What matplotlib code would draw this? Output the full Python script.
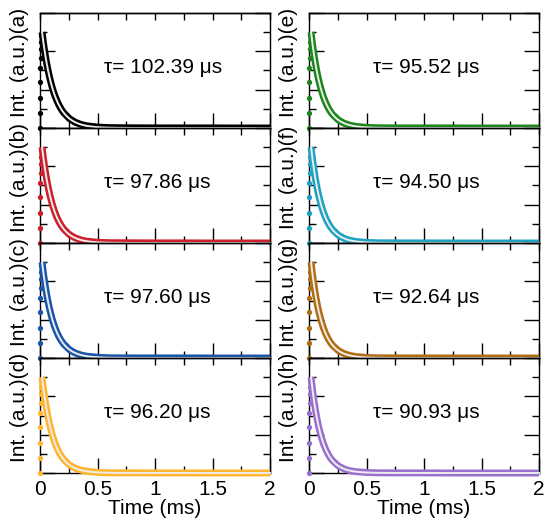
import numpy as np
import matplotlib
matplotlib.use("Agg")
import matplotlib.pyplot as plt
from matplotlib.ticker import MultipleLocator

plt.rcParams['font.family'] = ['Liberation Sans', 'DejaVu Sans']

# Panel letters, fitted lifetimes (µs) and colours
panels = ['a', 'b', 'c', 'd', 'e', 'f', 'g', 'h']
taus_us = [102.39, 97.86, 97.60, 96.20, 95.52, 94.50, 92.64, 90.93]
colors = ['#000000', '#cc1f2b', '#1a56a8', '#ffb52e',
          '#1c861c', '#1ea2c2', '#b26d12', '#9a70cf']

# Rising edge, sampled right at the excitation pulse (ms, normalised intensity)
rise_t = [0.000, 0.001, 0.002, 0.003, 0.004, 0.005, 0.006, 0.007, 0.008]
rise_i = [0.00, 0.16, 0.31, 0.48, 0.63, 0.73, 0.82, 0.90, 0.97]

# Decay part of the measured transients (ms)
decay_t = [0.018, 0.026, 0.036, 0.046, 0.056, 0.066, 0.076, 0.086, 0.106,
           0.126, 0.146, 0.166, 0.186, 0.206, 0.256, 0.306, 0.356, 0.406,
           0.506, 0.606, 0.806, 1.006, 1.256, 1.506, 1.756, 2.000]

decay_i = {
    'a': [1.000, 0.925, 0.839, 0.761, 0.690, 0.626, 0.567, 0.515, 0.423,
          0.348, 0.287, 0.236, 0.194, 0.159, 0.098, 0.060, 0.037, 0.023,
          0.009, 0.004, 0.002, 0.001, 0.001, 0.001, 0.000, 0.000],
    'b': [1.000, 0.921, 0.832, 0.751, 0.678, 0.612, 0.553, 0.499, 0.407,
          0.332, 0.270, 0.220, 0.180, 0.146, 0.088, 0.053, 0.032, 0.019,
          0.007, 0.003, 0.002, 0.001, 0.001, 0.000, 0.000, 0.000],
    'c': [1.000, 0.921, 0.831, 0.751, 0.677, 0.612, 0.552, 0.498, 0.406,
          0.331, 0.269, 0.219, 0.179, 0.146, 0.087, 0.052, 0.031, 0.019,
          0.007, 0.002, 0.001, 0.001, 0.001, 0.000, 0.000, 0.000],
    'd': [1.000, 0.920, 0.829, 0.747, 0.674, 0.607, 0.547, 0.493, 0.401,
          0.325, 0.264, 0.215, 0.174, 0.142, 0.084, 0.050, 0.030, 0.018,
          0.006, 0.002, 0.002, 0.001, 0.001, 0.000, 0.000, 0.000],
    'e': [1.000, 0.920, 0.828, 0.746, 0.672, 0.605, 0.545, 0.491, 0.398,
          0.323, 0.262, 0.212, 0.172, 0.140, 0.083, 0.049, 0.029, 0.017,
          0.006, 0.002, 0.001, 0.001, 0.001, 0.000, 0.000, 0.000],
    'f': [1.000, 0.919, 0.827, 0.744, 0.669, 0.602, 0.541, 0.487, 0.394,
          0.319, 0.258, 0.209, 0.169, 0.137, 0.081, 0.047, 0.028, 0.016,
          0.006, 0.002, 0.001, 0.001, 0.000, 0.000, 0.000, 0.000],
    'g': [1.000, 0.917, 0.823, 0.739, 0.664, 0.596, 0.535, 0.480, 0.387,
          0.312, 0.251, 0.202, 0.163, 0.131, 0.077, 0.045, 0.026, 0.015,
          0.005, 0.002, 0.001, 0.001, 0.000, 0.000, 0.000, 0.000],
    'h': [1.000, 0.916, 0.820, 0.735, 0.658, 0.590, 0.528, 0.473, 0.380,
          0.305, 0.245, 0.196, 0.158, 0.127, 0.073, 0.042, 0.024, 0.014,
          0.005, 0.002, 0.001, 0.001, 0.000, 0.000, 0.000, 0.000],
}

peak_t = decay_t[0]
x_ticks = [0, 0.5, 1, 1.5, 2]
x_ticklabels = ['0', '0.5', '1', '1.5', '2']

W, H = 546, 529
fig = plt.figure(figsize=(W / 100, H / 100), dpi=100)

col_left = [40, 309]
col_width = [230, 230]
row_top = 13
row_h = 115

for idx, key in enumerate(panels):
    col, row = divmod(idx, 4)
    x0 = col_left[col]
    y_top = row_top + row * row_h
    ax = fig.add_axes([x0 / W, 1 - (y_top + row_h) / H,
                       col_width[col] / W, row_h / H])
    c = colors[idx]

    # measured transient
    ax.plot(decay_t, decay_i[key], color=c, lw=5.0, solid_capstyle='butt',
            solid_joinstyle='round', clip_on=False, zorder=3)
    ax.plot(rise_t, rise_i, 'o', color=c, ms=2.8, mec=c,
            clip_on=False, zorder=4)

    # single-exponential fit
    tau_ms = taus_us[idx] / 1000.0
    tf = np.linspace(peak_t, 2.0, 600)
    ax.plot(tf, np.exp(-(tf - peak_t) / tau_ms), color='#ededed', lw=1.4,
            zorder=5, clip_on=False)

    ax.set_xlim(0, 2)
    ax.set_ylim(0, 1.2)

    ax.xaxis.set_major_locator(MultipleLocator(0.5))
    ax.xaxis.set_minor_locator(MultipleLocator(0.25))
    ax.yaxis.set_major_locator(MultipleLocator(0.4))
    ax.yaxis.set_minor_locator(MultipleLocator(0.2))
    ax.tick_params(axis='x', which='major', direction='in', length=11,
                   width=1.0, bottom=True, top=False, labelsize=15, pad=5)
    ax.tick_params(axis='x', which='minor', direction='in', length=5,
                   width=1.0, bottom=True, top=False)
    ax.tick_params(axis='y', which='major', direction='in', length=11,
                   width=1.0, left=True, right=True, labelleft=False)
    ax.tick_params(axis='y', which='minor', direction='in', length=5,
                   width=1.0, left=True, right=True)

    top = ax.secondary_xaxis('top')
    top.set_xticks(np.arange(0, 2.01, 0.25))
    top.tick_params(direction='in', length=5, width=1.0, labeltop=False)
    top.spines['top'].set_linewidth(1.0)

    for s in ax.spines.values():
        s.set_linewidth(1.0)

    if row == 3:
        ax.set_xticks(x_ticks)
        ax.set_xticklabels(x_ticklabels)
        ax.set_xlabel('Time (ms)', fontsize=15, labelpad=0)
    else:
        ax.tick_params(axis='x', labelbottom=False)

    ax.text(-0.088, 0.57, 'Int. (a.u.)(%s)' % key, transform=ax.transAxes,
            rotation=90, ha='center', va='center', fontsize=15)
    ax.text(0.28, 0.53, 'τ= %.2f μs' % taus_us[idx], transform=ax.transAxes,
            ha='left', va='center', fontsize=15)

fig.savefig('out.png', dpi=100)
